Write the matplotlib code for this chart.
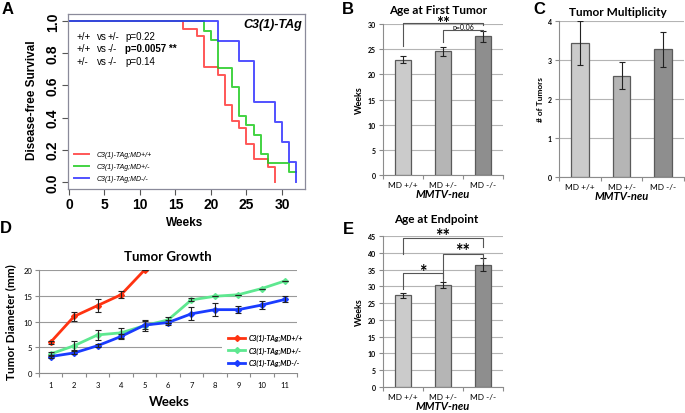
import matplotlib
matplotlib.use('Agg')
import matplotlib.pyplot as plt

plt.rcParams['font.family'] = 'Lato'

# ---- data ----
# A: Kaplan-Meier steps (weeks, disease-free fraction)
km_red_t = [0, 16, 18, 19, 21, 22, 23, 24, 25, 26, 28, 29]
km_red_s = [1.0, 0.952, 0.905, 0.714, 0.667, 0.476, 0.381, 0.333, 0.238, 0.143, 0.095, 0.0]
km_green_t = [0, 19, 20, 21, 23, 24, 25, 26, 27, 28, 31, 32]
km_green_s = [1.0, 0.941, 0.882, 0.706, 0.588, 0.412, 0.353, 0.294, 0.176, 0.118, 0.059, 0.059]
km_blue_t = [0, 21, 24, 26, 29, 30, 31, 32]
km_blue_s = [1.0, 0.875, 0.75, 0.5, 0.375, 0.25, 0.125, 0.0]
km_labels = ['C3(1)-TAg;MD+/+', 'C3(1)-TAg;MD+/-', 'C3(1)-TAg;MD-/-']
pv_rows = [('+/+', '+/-', 'p=0.22'), ('+/+', '-/-', 'p=0.0057 **'), ('+/-', '-/-', 'p=0.14')]

# B, C, E: bar charts
genotypes = ['MD +/+', 'MD +/-', 'MD -/-']
first_tumor = [22.9, 24.6, 27.6]
first_tumor_err = [0.65, 0.9, 1.1]
multiplicity = [3.43, 2.6, 3.27]
multiplicity_err = [0.57, 0.34, 0.46]
endpoint = [27.3, 30.3, 36.5]
endpoint_err = [0.8, 0.9, 1.8]

# D: tumor growth
weeks = list(range(1, 12))
red_mean = [6.0, 11.0, 13.1, 15.2, 20.0]
red_err = [0.3, 0.9, 1.25, 0.65, 0.0]
green_mean = [3.7, 5.3, 7.4, 7.8, 9.2, 10.3, 14.2, 14.9, 15.2, 16.4, 17.9]
green_err = [0.4, 0.9, 0.9, 1.0, 1.1, 0.6, 0.3, 0.0, 0.0, 0.0, 0.0]
blue_mean = [3.2, 3.9, 5.3, 7.1, 9.3, 9.8, 11.5, 12.3, 12.3, 13.2, 14.3]
blue_err = [0.3, 0.3, 0.3, 0.5, 0.8, 0.4, 1.3, 1.3, 0.7, 0.7, 0.6]

W, H = 685, 414
fig = plt.figure(figsize=(W / 100, H / 100), dpi=100)


def box(l, t, r, b):
    return [l / W, 1 - b / H, (r - l) / W, (b - t) / H]


def ftext(x, y, s, **kw):
    fig.text(x / W, 1 - y / H, s, **kw)


# ---- A ----
axA = fig.add_axes(box(68, 15, 305, 190))
km_cols = ['#ff3a3a', '#22cc22', '#3333ff']
for t, s, c, lab in zip([km_red_t, km_green_t, km_blue_t],
                        [km_red_s, km_green_s, km_blue_s], km_cols, km_labels):
    axA.step(t, s, where='post', color=c, lw=1.4, alpha=0.85, label=lab)
axA.set_xlim(-0.14, 33.24)
axA.set_ylim(-0.0435, 1.0435)
axA.set_xticks([0, 5, 10, 15, 20, 25, 30])
axA.set_yticks([0, 0.2, 0.4, 0.6, 0.8, 1.0])
axA.set_yticklabels(['0.0', '0.2', '0.4', '0.6', '0.8', '1.0'], rotation=90, va='center')
for lbl in axA.get_xticklabels() + axA.get_yticklabels():
    lbl.set_family('Liberation Sans')
    lbl.set_fontweight('bold')
    lbl.set_fontsize(10)
axA.tick_params(length=4, width=0.8, color='#555555', pad=2)
for sp in axA.spines.values():
    sp.set_color('#8a8a9a')
    sp.set_linewidth(0.9)
axA.legend(loc='upper left', bbox_to_anchor=(74 / W, 1 - 152 / H),
           bbox_transform=fig.transFigure, frameon=False, borderpad=0,
           borderaxespad=0, handlelength=2.2, handletextpad=1.0,
           labelspacing=0.75, prop={'family': 'Liberation Sans', 'size': 5,
                                    'style': 'italic'})
for i, (a, b, p) in enumerate(pv_rows):
    y = 37 + i * 12.5
    kw = dict(family='Liberation Sans', fontsize=7, va='center', ha='left')
    ftext(77, y, a, **kw)
    ftext(97, y, 'vs', **kw)
    ftext(108, y, b, **kw)
    ftext(125, y, p, fontweight='bold' if '**' in p else 'normal', **kw)
ftext(302, 25, 'C3(1)-TAg', family='Liberation Sans', fontsize=9,
      fontweight='bold', style='italic', ha='right', va='center')
ftext(185, 223, 'Weeks', family='Liberation Sans', fontsize=8.5,
      fontweight='bold', ha='center', va='center')
ftext(32, 100, 'Disease-free Survival', family='Liberation Sans', fontsize=8.5,
      fontweight='bold', rotation=90, ha='center', va='center')

# ---- bar panels ----
bar_cols = ['#cbcbcb', '#b5b5b5', '#8e8e8e']


def bar_panel(rect, vals, errs, ymax, ystep, ylabel):
    ax = fig.add_axes(rect)
    x = list(range(len(vals)))
    ax.bar(x, vals, width=0.42, color=bar_cols, edgecolor='#5a5a5a', lw=0.9, zorder=3)
    ax.errorbar(x, vals, yerr=errs, fmt='none', ecolor='#222222', elinewidth=0.8,
                capsize=2, capthick=0.8, zorder=4)
    ax.set_xlim(-0.5, 2.5)
    ax.set_ylim(0, ymax)
    ax.set_yticks(range(0, ymax + 1, ystep))
    ax.set_xticks(x)
    ax.set_xticklabels(genotypes, fontsize=6)
    ax.set_xticks([-0.5, 0.5, 1.5, 2.5], minor=True)
    ax.tick_params(axis='x', which='major', length=0, pad=4)
    ax.tick_params(axis='x', which='minor', length=3, color='#8c8c8c', width=0.8)
    ax.tick_params(axis='y', length=3, color='#8c8c8c', width=0.8, pad=2, labelsize=5)
    for lbl in ax.get_yticklabels():
        lbl.set_fontweight('bold')
    ax.grid(axis='y', color='#b4b4b4', lw=0.8, zorder=0)
    for side in ['top', 'right']:
        ax.spines[side].set_visible(False)
    for side in ['left', 'bottom']:
        ax.spines[side].set_color('#8c8c8c')
        ax.spines[side].set_linewidth(0.8)
    ax.set_ylabel(ylabel, fontsize=6.5 if ylabel == 'Weeks' else 6,
                  fontweight='bold', labelpad=3)
    ax.set_xlabel('MMTV-neu', fontsize=8, fontweight='bold', style='italic', labelpad=0)
    return ax


def bracket(ax, x0, x1, y0, ytop, y1, text, ty, size, weight='bold'):
    ax.plot([x0, x0, x1, x1], [y0, ytop, ytop, y1], color='#555555', lw=0.8,
            clip_on=False, zorder=5)
    ax.text((x0 + x1) / 2, ty, text, ha='center', va='center', fontsize=size,
            fontweight=weight, clip_on=False)


axB = bar_panel(box(383, 25, 503, 176), first_tumor, first_tumor_err, 30, 5, 'Weeks')
bracket(axB, 0, 2, 25.6, 30.2, 29.8, '**', 30.2, 12)
bracket(axB, 1, 2, 26.4, 28.9, 28.6, 'p=0.06', 29.6, 5, 'normal')

axC = bar_panel(box(559, 22, 684, 178), multiplicity, multiplicity_err, 4, 1, '# of Tumors')

axE = bar_panel(box(383, 237, 503, 388), endpoint, endpoint_err, 45, 5, 'Weeks')
bracket(axE, 0, 1, 29.2, 34.0, 32.5, '*', 34.5, 13)
bracket(axE, 1, 2, 31.6, 39.6, 37.2, '**', 40.7, 13)
bracket(axE, 0, 2, 39.6, 44.4, 41.7, '**', 45.2, 13)

ftext(438, 10, 'Age at First Tumor', fontsize=8.5, fontweight='bold', ha='center', va='center')
ftext(618, 12, 'Tumor Multiplicity', fontsize=8.5, fontweight='bold', ha='center', va='center')
ftext(436, 220, 'Age at Endpoint', fontsize=8.5, fontweight='bold', ha='center', va='center')

# ---- D ----
axD = fig.add_axes(box(39, 271, 297, 374))
line_specs = [(weeks[:len(red_mean)], red_mean, red_err, '#ff3311', km_labels[0]),
              (weeks, green_mean, green_err, '#5ee890', km_labels[1]),
              (weeks, blue_mean, blue_err, '#1a3cff', km_labels[2])]
handles = []
for x, m, e, c, lab in line_specs:
    h, = axD.plot(x, m, color=c, lw=2, marker='D', ms=3, mec=c, mfc=c, zorder=3, label=lab)
    axD.errorbar(x, m, yerr=e, fmt='none', ecolor='#222222', elinewidth=0.8,
                 capsize=2, capthick=0.8, zorder=4)
    handles.append(h)
axD.set_xlim(0.5, 11.5)
axD.set_ylim(0, 20)
axD.set_yticks([0, 5, 10, 15, 20])
axD.set_xticks(weeks)
axD.set_xticks([w - 0.5 for w in weeks] + [11.5], minor=True)
axD.tick_params(axis='x', which='major', length=0, pad=6, labelsize=5.5)
axD.tick_params(axis='x', which='minor', length=3, color='#8c8c8c', width=0.8)
axD.tick_params(axis='y', length=3, color='#8c8c8c', width=0.8, pad=2, labelsize=5.5)
axD.grid(axis='y', color='#9a9a9a', lw=0.8, zorder=0)
for side in ['top', 'right']:
    axD.spines[side].set_visible(False)
for side in ['left', 'bottom']:
    axD.spines[side].set_color('#8c8c8c')
    axD.spines[side].set_linewidth(0.8)
leg = axD.legend(handles=handles, loc='upper left', bbox_to_anchor=(222 / W, 1 - 329 / H),
                 bbox_transform=fig.transFigure, frameon=True, fancybox=False,
                 borderpad=0.9, borderaxespad=0, handlelength=2.4, handletextpad=0.6,
                 labelspacing=0.75, numpoints=1,
                 prop={'size': 5, 'style': 'italic', 'weight': 'bold'})
leg.get_frame().set_facecolor('white')
leg.get_frame().set_edgecolor('none')
leg.get_frame().set_alpha(1)
leg.set_zorder(10)
ftext(168, 257, 'Tumor Growth', fontsize=9.5, fontweight='bold', ha='center', va='center')
ftext(169, 402, 'Weeks', fontsize=9.5, fontweight='bold', ha='center', va='center')
ftext(11, 322, 'Tumor Diameter (mm)', fontsize=8.5, fontweight='bold', rotation=90,
      ha='center', va='center')

# ---- panel letters ----
for letter, x, y in [('A', 2, 2), ('B', 342, 2), ('C', 533, 2), ('D', 0, 221), ('E', 343, 222)]:
    ftext(x, y, letter, family='Liberation Sans', fontsize=12, fontweight='bold',
          ha='left', va='top')

fig.savefig('out.png', dpi=100)
